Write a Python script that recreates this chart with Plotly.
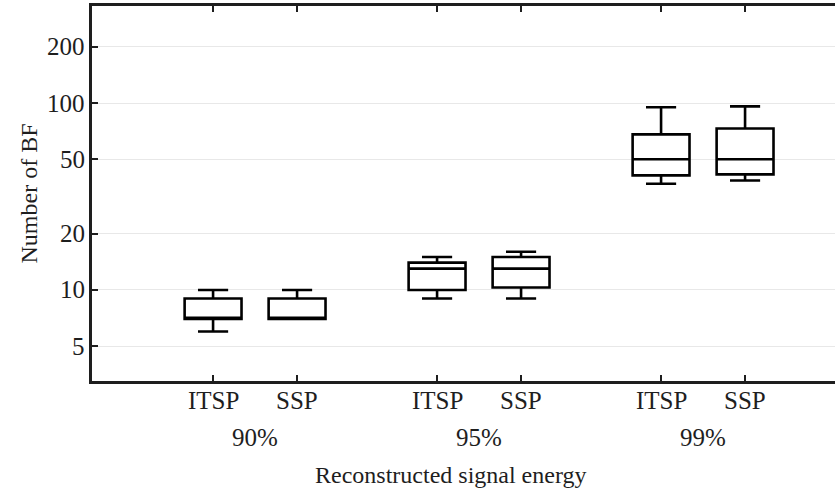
import math
import plotly.graph_objects as go

# Summary statistics of the number of basis functions (BF)
energy_levels = ["90%", "95%", "99%"]
methods = ["ITSP", "SSP"]

box_method = ["ITSP", "SSP", "ITSP", "SSP", "ITSP", "SSP"]
box_group = [0, 0, 1, 1, 2, 2]
lower_whisker = [6, 7, 9, 9, 37, 38.5]
q1_vals = [7, 7, 10, 10.3, 41, 41.5]
median_vals = [7, 7, 13, 13, 50, 50]
q3_vals = [9, 9, 14, 15, 68, 73]
upper_whisker = [10, 10, 15, 16, 95, 96]

y_ticks = [5, 10, 20, 50, 100, 200]

OFFSET = 0.1875
positions = [g + (-OFFSET if m == "ITSP" else OFFSET) for g, m in zip(box_group, box_method)]

FONT = "Liberation Serif"
FS = 25
TXT = "#1e1e1e"

fig = go.Figure()
fig.add_trace(go.Box(
    x=positions,
    q1=q1_vals,
    median=median_vals,
    q3=q3_vals,
    lowerfence=lower_whisker,
    upperfence=upper_whisker,
    width=0.254,
    whiskerwidth=0.53,
    line=dict(color="black", width=2.6),
    fillcolor="rgba(255,255,255,0)",
    boxpoints=False,
    showlegend=False,
    hoverinfo="skip",
))

annotations = []
# y tick labels, set a little away from the axis line
for v in y_ticks:
    annotations.append(dict(
        x=0, y=math.log10(v), xref="paper", yref="y", text=str(v), showarrow=False,
        xanchor="right", yanchor="middle", xshift=-5,
        font=dict(family=FONT, size=FS, color=TXT),
    ))
# method labels under each box
for x, lab in zip(positions, box_method):
    annotations.append(dict(
        x=x, y=0, xref="x", yref="paper", text=lab, showarrow=False,
        yanchor="middle", yshift=-19, font=dict(family=FONT, size=FS, color=TXT),
    ))
# energy level labels under each pair
for g, lab in enumerate(energy_levels):
    annotations.append(dict(
        x=g, y=0, xref="x", yref="paper", text=lab, showarrow=False,
        yanchor="middle", yshift=-56, font=dict(family=FONT, size=FS, color=TXT),
    ))
annotations.append(dict(
    x=(450 - 92) / 743, y=0, xref="paper", yref="paper",
    text="Reconstructed signal energy", showarrow=False,
    yanchor="middle", yshift=-94, font=dict(family=FONT, size=24, color=TXT),
))
annotations.append(dict(
    x=0, y=0.5, xref="paper", yref="paper", text="Number of BF",
    showarrow=False, textangle=-90, xanchor="center", yanchor="middle",
    xshift=-64, font=dict(family=FONT, size=24, color=TXT),
))

fig.update_layout(
    width=835, height=493,
    margin=dict(l=92, r=0, t=6, b=112),
    paper_bgcolor="white", plot_bgcolor="white",
    font=dict(family=FONT, size=FS, color=TXT),
    annotations=annotations,
    xaxis=dict(
        range=[-0.728, 2.589],
        tickvals=positions,
        ticktext=box_method,
        showticklabels=False,
        ticks="inside", ticklen=6, tickwidth=1.5, tickcolor=TXT,
        showline=True, linecolor=TXT, linewidth=2.6, mirror="ticks",
        showgrid=False, zeroline=False,
    ),
    yaxis=dict(
        type="log",
        range=[0.513, 2.519],
        tickvals=y_ticks,
        ticktext=[str(v) for v in y_ticks],
        showticklabels=False,
        ticks="inside", ticklen=6, tickwidth=1.5, tickcolor=TXT,
        showline=True, linecolor=TXT, linewidth=2.6, mirror=False,
        showgrid=True, gridcolor="#e8e8e8", gridwidth=1,
        zeroline=False,
    ),
)

fig.write_html("out.html")
